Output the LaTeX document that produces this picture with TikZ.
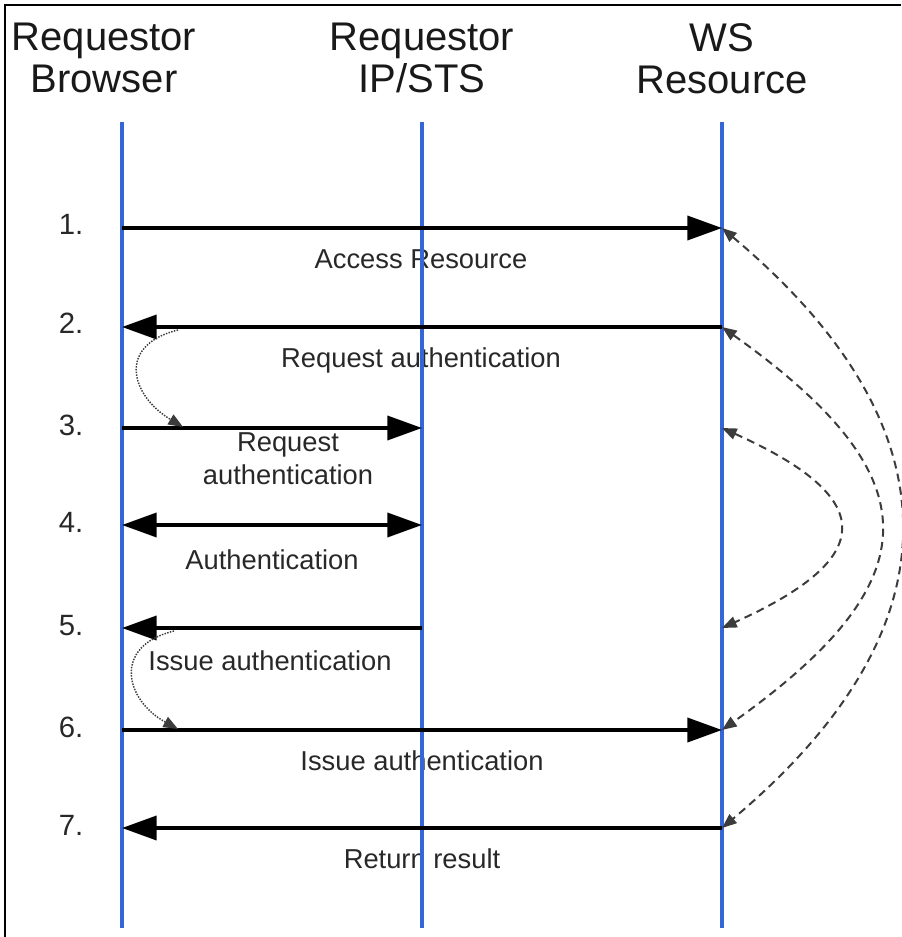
\documentclass[tikz,border=0pt]{standalone}
\usepackage{fontspec}
\setmainfont{Liberation Sans}
\usetikzlibrary{arrows.meta}

\definecolor{lifeblue}{RGB}{51,102,214}
\definecolor{txtgray}{RGB}{40,40,40}
\definecolor{dashgray}{RGB}{60,60,60}

\tikzset{
  big/.tip={Triangle[length=26pt,width=18pt]},
  small/.tip={Triangle[length=11pt,width=8.5pt]},
  hdr/.style={font=\fontsize{30}{31.5}\selectfont, align=center, anchor=north, inner sep=0pt, text=black!90},
  lbl/.style={font=\fontsize{20.5}{24.75}\selectfont, text=txtgray, inner sep=0pt},
  num/.style={font=\fontsize{22}{25}\selectfont, text=txtgray, anchor=base, inner sep=0pt},
  life/.style={draw=lifeblue, line width=3pt},
  msg/.style={line width=2.8pt, -big},
  both/.style={line width=2.8pt, big-big},
  back/.style={dashgray, line width=1.5pt, dash pattern=on 6pt off 4pt, small-small},
  hint/.style={dashgray, line width=1.1pt, densely dotted, -small}
}

\begin{document}
\begin{tikzpicture}[x=0.75pt, y=-0.75pt]
\useasboundingbox (0,0) rectangle (901,937);
\draw[line width=1.5pt] (5,937) -- (5,5) -- (901,5);

% headers
\node[hdr] (brw) at (104,23) {Requestor\\Browser};
\node[hdr] (ips) at (422,23) {Requestor\\IP/STS};
\node[hdr] (wsr) at (722,23) {WS\\Resource};

% rows
\foreach \n/\y in {1/228,2/327,3/428,4/525,5/628,6/730,7/828}{
  \coordinate (b\n) at (122,\y);
  \coordinate (i\n) at (422,\y);
  \coordinate (w\n) at (722,\y);
  \node[num] (n\n) at (71,\y+7) {\n.};
}

% labels
\node[lbl, anchor=base] (l1) at (421,269) {Access Resource};
\node[lbl, anchor=base] (l2) at (421,368) {Request authentication};
\node[lbl, anchor=north, align=center] (l3) at (288,432) {Request\\authentication};
\node[lbl, anchor=base] (l4) at (272,569) {Authentication};
\node[lbl, anchor=base] (l5) at (270,670) {Issue authentication};
\node[lbl, anchor=base] (l6) at (422,770) {Issue authentication};
\node[lbl, anchor=base] (l7) at (422,868) {Return result};

% lifelines
\foreach \x/\c in {122/b,422/i,722/w}{
  \coordinate (\c top) at (\x,122);
  \coordinate (\c bot) at (\x,928);
  \draw[life] (\c top) -- (\c bot);
}

% messages
\draw[msg] (b1) -- (w1);
\draw[msg] (w2) -- (b2);
\draw[msg] (b3) -- (i3);
\draw[both] (b4) -- (i4);
\draw[msg] (i5) -- (b5);
\draw[msg] (b6) -- (w6);
\draw[msg] (w7) -- (b7);

% hand-over hints
\coordinate (h2) at (178,330);
\coordinate (h3) at (183,427);
\coordinate (h5) at (174,631);
\coordinate (h6) at (178,729);
\draw[hint] (h2) .. controls (117,345) and (130,395) .. (h3);
\draw[hint] (h5) .. controls (112,646) and (125,700) .. (h6);

% request/response pairs at the resource
\draw[back] (w1) .. controls (960,428) and (960,628) .. (w7);
\draw[back] (w2) .. controls (933,477) and (933,580) .. (w6);
\draw[back] (w3) .. controls (878,498) and (878,558) .. (w5);
\end{tikzpicture}
\end{document}
